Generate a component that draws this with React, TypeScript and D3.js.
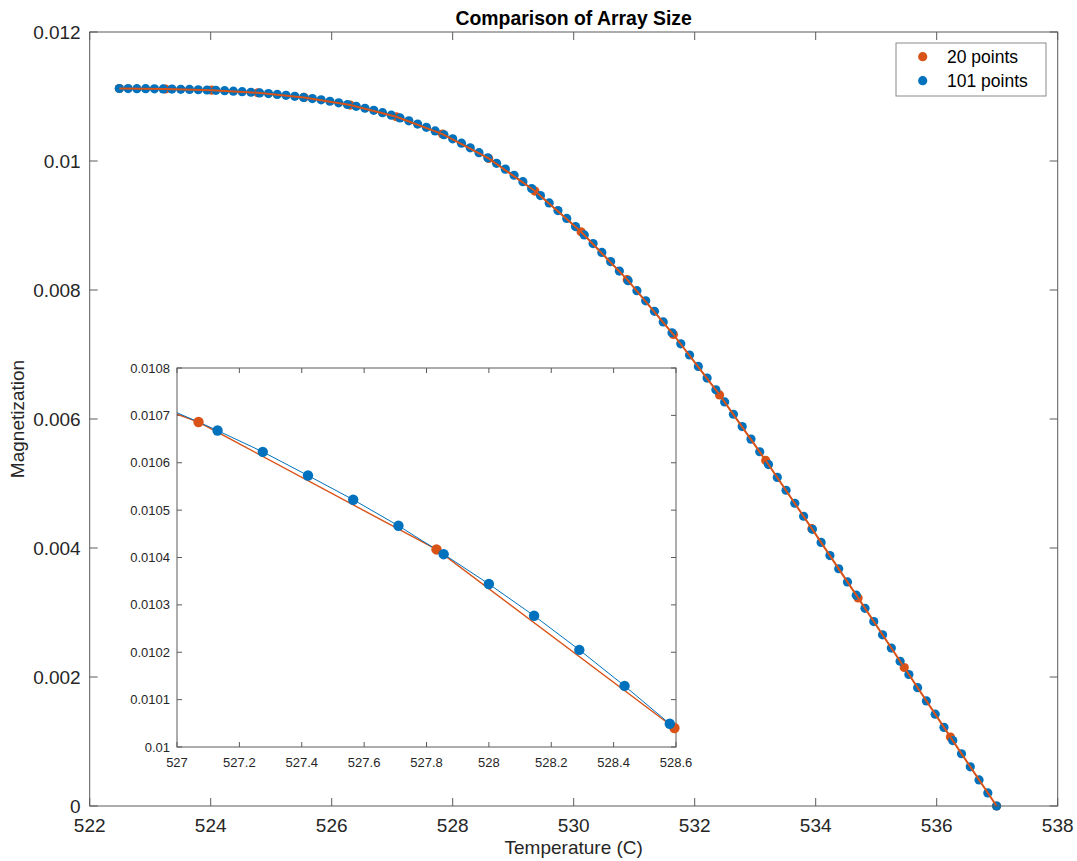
import React from "react";
import * as d3 from "d3";

// ---------- data ----------
const temps101: number[] = [
  522.49, 522.635, 522.78, 522.925, 523.07, 523.215, 523.36, 523.505, 523.65, 523.795,
  523.94, 524.085, 524.23, 524.375, 524.52, 524.665, 524.81, 524.955, 525.1, 525.245,
  525.39, 525.535, 525.68, 525.825, 525.97, 526.115, 526.26, 526.405, 526.55, 526.695,
  526.84, 526.985, 527.13, 527.275, 527.42, 527.565, 527.71, 527.855, 528.0, 528.145,
  528.29, 528.435, 528.58, 528.725, 528.87, 529.015, 529.16, 529.305, 529.45, 529.595,
  529.74, 529.885, 530.03, 530.175, 530.32, 530.465, 530.61, 530.755, 530.9, 531.045,
  531.19, 531.335, 531.48, 531.625, 531.77, 531.915, 532.06, 532.205, 532.35, 532.495,
  532.64, 532.785, 532.93, 533.075, 533.22, 533.365, 533.51, 533.655, 533.8, 533.945,
  534.09, 534.235, 534.38, 534.525, 534.67, 534.815, 534.96, 535.105, 535.25, 535.395,
  535.54, 535.685, 535.83, 535.975, 536.12, 536.265, 536.41, 536.555, 536.7, 536.845,
  536.99,
];
const mag101: number[] = [
  0.011124, 0.011123, 0.011122, 0.011121, 0.011119, 0.011117, 0.011115, 0.011112, 0.011109, 0.011105,
  0.011101, 0.011096, 0.01109, 0.011083, 0.011075, 0.011066, 0.011056, 0.011045, 0.011032, 0.011018,
  0.011003, 0.010986, 0.010968, 0.010948, 0.010926, 0.010902, 0.010876, 0.010848, 0.010818, 0.010785,
  0.010749, 0.01071, 0.010668, 0.010623, 0.010573, 0.010522, 0.010467, 0.010407, 0.010344, 0.010277,
  0.010205, 0.010129, 0.010049, 0.009964, 0.009874, 0.009779, 0.009679, 0.009574, 0.009464, 0.00935,
  0.009232, 0.00911, 0.008984, 0.008854, 0.00872, 0.008582, 0.00844, 0.008294, 0.008144, 0.00799,
  0.007832, 0.00767, 0.007505, 0.007337, 0.007166, 0.006992, 0.006815, 0.006635, 0.006452, 0.006264,
  0.006074, 0.005882, 0.005688, 0.005492, 0.005294, 0.005095, 0.004895, 0.004694, 0.004492, 0.004289,
  0.004086, 0.003882, 0.003678, 0.003474, 0.003269, 0.003064, 0.002859, 0.002654, 0.002449, 0.002244,
  0.002039, 0.001834, 0.001629, 0.001424, 0.001219, 0.001014, 0.00081, 0.000607, 0.000404, 0.000202,
  0,
];
const temps20: number[] = [
  522.49, 523.253, 524.016, 524.779, 525.543, 526.306, 527.069, 527.832, 528.595, 529.358,
  530.122, 530.885, 531.648, 532.411, 533.174, 533.937, 534.701, 535.464, 536.227, 536.99,
];
const mag20: number[] = [
  0.011124, 0.011116, 0.011098, 0.011058, 0.010985, 0.010867, 0.010686, 0.010417, 0.01004, 0.009534,
  0.008902, 0.00816, 0.00731, 0.006373, 0.005357, 0.0043, 0.003226, 0.002147, 0.001068, 0,
];

const mainXTicks: number[] = [522, 524, 526, 528, 530, 532, 534, 536, 538];
const mainYTicks: number[] = [0, 0.002, 0.004, 0.006, 0.008, 0.01, 0.012];
const insetXTicks: number[] = [527, 527.2, 527.4, 527.6, 527.8, 528, 528.2, 528.4, 528.6];
const insetYTicks: number[] = [0.01, 0.0101, 0.0102, 0.0103, 0.0104, 0.0105, 0.0106, 0.0107, 0.0108];

const seriesLabels: string[] = ["20 points", "101 points"];
const titleText = "Comparison of Array Size";
const xLabelText = "Temperature (C)";
const yLabelText = "Magnetization";

// ---------- styles ----------
const BLUE = "#0072BD";
const ORANGE = "#D95319";
const AXIS = "#5a5a5a";
const TEXT = "#262626";
const FONT = "'Liberation Sans', Arial, Helvetica, sans-serif";

type Pt = [number, number];
const zip = (xs: number[], ys: number[]): Pt[] => xs.map((x, i) => [x, ys[i]]);

export default function App() {
  const W = 1077;
  const H = 861;

  // main axes
  const mL = 89.7, mR = 1057.7, mT = 32, mB = 806;
  const x = d3.scaleLinear().domain([522, 538]).range([mL, mR]);
  const y = d3.scaleLinear().domain([0, 0.012]).range([mB, mT]);

  // inset axes
  const iL = 177, iR = 676, iT = 368, iB = 747;
  const xi = d3.scaleLinear().domain([527, 528.6]).range([iL, iR]);
  const yi = d3.scaleLinear().domain([0.01, 0.0108]).range([iB, iT]);

  const d101 = zip(temps101, mag101);
  const d20 = zip(temps20, mag20);

  const inInset = (d: Pt) => {
    const [x0, x1] = xi.domain();
    const [y0, y1] = yi.domain();
    return d[0] >= x0 && d[0] <= x1 && d[1] >= y0 && d[1] <= y1;
  };

  const lineMain = d3.line<Pt>().x((d) => x(d[0])).y((d) => y(d[1]));
  const lineInset = d3.line<Pt>().x((d) => xi(d[0])).y((d) => yi(d[1]));

  const fmtX = (v: number) => String(+v.toFixed(1));
  const fmtY = (v: number) => String(+v.toFixed(4));

  const mainTick = 8;
  const insetTick = 5;
  const mainFont = 19;
  const insetFont = 13;

  return (
    <svg
      width={W}
      height={H}
      style={{ position: "absolute", left: 0, top: 0, background: "#fff" }}
      fontFamily={FONT}
    >
      <defs>
        <clipPath id="insetClip">
          <rect x={iL} y={iT} width={iR - iL} height={iB - iT} />
        </clipPath>
      </defs>
      <rect x={0} y={0} width={W} height={H} fill="#fff" />

      {/* ---------- main axes ---------- */}
      <rect x={mL} y={mT} width={mR - mL} height={mB - mT} fill="#fff" />
      {mainXTicks.map((t) => (
        <g key={"mx" + t}>
          <line x1={x(t)} x2={x(t)} y1={mB} y2={mB - mainTick} stroke={AXIS} strokeWidth={1} />
          <line x1={x(t)} x2={x(t)} y1={mT} y2={mT + mainTick} stroke={AXIS} strokeWidth={1} />
          <text x={x(t)} y={mB + 26} textAnchor="middle" fontSize={mainFont} fill={TEXT}>
            {fmtX(t)}
          </text>
        </g>
      ))}
      {mainYTicks.map((t) => (
        <g key={"my" + t}>
          <line x1={mL} x2={mL + mainTick} y1={y(t)} y2={y(t)} stroke={AXIS} strokeWidth={1} />
          <line x1={mR} x2={mR - mainTick} y1={y(t)} y2={y(t)} stroke={AXIS} strokeWidth={1} />
          <text x={mL - 9} y={y(t) + 6.8} textAnchor="end" fontSize={mainFont} fill={TEXT}>
            {fmtY(t)}
          </text>
        </g>
      ))}

      {/* series, main */}
      <g>
        {d20.map((d, i) => (
          <circle key={"r" + i} cx={x(d[0])} cy={y(d[1])} r={4.6} fill={ORANGE} />
        ))}
        {d101.map((d, i) => (
          <circle key={"b" + i} cx={x(d[0])} cy={y(d[1])} r={4.6} fill={BLUE} />
        ))}
        <path d={lineMain(d101) || ""} fill="none" stroke={BLUE} strokeWidth={1} />
        <path d={lineMain(d20) || ""} fill="none" stroke={ORANGE} strokeWidth={2} />
      </g>

      <rect x={mL} y={mT} width={mR - mL} height={mB - mT} fill="none" stroke={AXIS} strokeWidth={1} />

      {/* title and labels */}
      <text x={(mL + mR) / 2} y={25} textAnchor="middle" fontSize={19.4} fontWeight="bold" fill="#000">
        {titleText}
      </text>
      <text x={(mL + mR) / 2} y={854} textAnchor="middle" fontSize={19} fill={TEXT}>
        {xLabelText}
      </text>
      <text
        transform={`translate(24, ${(mT + mB) / 2}) rotate(-90)`}
        textAnchor="middle"
        fontSize={19}
        fill={TEXT}
      >
        {yLabelText}
      </text>

      {/* legend */}
      <g>
        <rect x={896} y={43} width={150} height={53} fill="#fff" stroke="#8a8a8a" strokeWidth={1} />
        {seriesLabels.map((s, i) => (
          <g key={s}>
            <circle cx={922.7} cy={56.7 + i * 24} r={4.6} fill={i === 0 ? ORANGE : BLUE} />
            <text x={947} y={56.7 + i * 24 + 6.3} fontSize={17.5} fill="#000">
              {s}
            </text>
          </g>
        ))}
      </g>

      {/* ---------- inset axes ---------- */}
      <rect x={iL} y={iT} width={iR - iL} height={iB - iT} fill="#fff" />
      {insetXTicks.map((t) => (
        <g key={"ix" + t}>
          <line x1={xi(t)} x2={xi(t)} y1={iB} y2={iB - insetTick} stroke={AXIS} strokeWidth={1} />
          <line x1={xi(t)} x2={xi(t)} y1={iT} y2={iT + insetTick} stroke={AXIS} strokeWidth={1} />
          <text x={xi(t)} y={iB + 20} textAnchor="middle" fontSize={insetFont} fill={TEXT}>
            {fmtX(t)}
          </text>
        </g>
      ))}
      {insetYTicks.map((t) => (
        <g key={"iy" + t}>
          <line x1={iL} x2={iL + insetTick} y1={yi(t)} y2={yi(t)} stroke={AXIS} strokeWidth={1} />
          <line x1={iR} x2={iR - insetTick} y1={yi(t)} y2={yi(t)} stroke={AXIS} strokeWidth={1} />
          <text x={iL - 7} y={yi(t) + 4.6} textAnchor="end" fontSize={insetFont} fill={TEXT}>
            {fmtY(t)}
          </text>
        </g>
      ))}
      <g clipPath="url(#insetClip)">
        <path d={lineInset(d20) || ""} fill="none" stroke={ORANGE} strokeWidth={1.4} />
        <path d={lineInset(d101) || ""} fill="none" stroke={BLUE} strokeWidth={1} />
      </g>
      <rect x={iL} y={iT} width={iR - iL} height={iB - iT} fill="none" stroke={AXIS} strokeWidth={1} />
      <g>
        {d20.filter(inInset).map((d, i) => (
          <circle key={"ir" + i} cx={xi(d[0])} cy={yi(d[1])} r={5.2} fill={ORANGE} />
        ))}
        {d101.filter(inInset).map((d, i) => (
          <circle key={"ib" + i} cx={xi(d[0])} cy={yi(d[1])} r={5.2} fill={BLUE} />
        ))}
      </g>
    </svg>
  );
}
